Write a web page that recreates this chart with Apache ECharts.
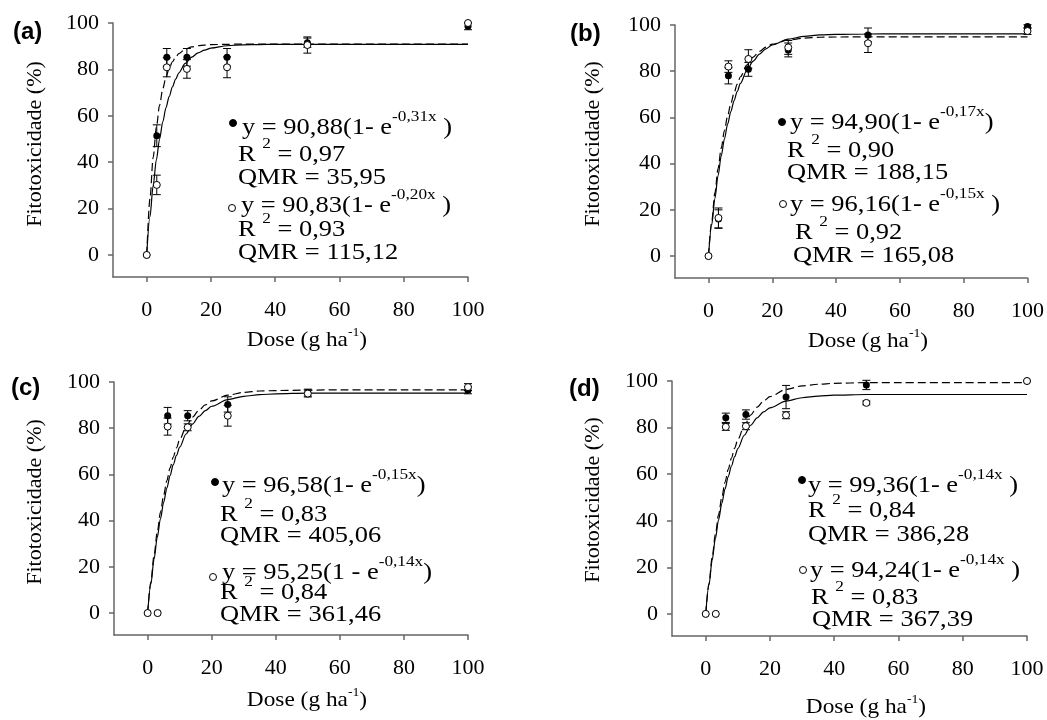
<!DOCTYPE html>
<html>
<head>
<meta charset="utf-8">
<title>Fitotoxicidade</title>
<script src="https://cdn.jsdelivr.net/npm/echarts@6/dist/echarts.min.js"></script>
<style>
  html, body { margin: 0; padding: 0; background: #fff; }
  #chart { width: 1047px; height: 720px; }
</style>
</head>
<body>
<div id="chart"></div>
<script>
// doses (g ha-1) and tick values
var doses = [0, 3.125, 6.25, 12.5, 25, 50, 100];
var curveDoses = [0, 1, 2, 3, 4, 5, 6, 7, 8, 9, 10, 12, 14, 16, 18, 20, 25, 30, 35, 40, 50, 60, 80, 100];
var xTicks = [0, 20, 40, 60, 80, 100];
var yTicks = [0, 20, 40, 60, 80, 100];

// (a)
var aFilled    = [0, 51.4, 85.2, 85.2, 85.2, 91.5, 98.6];
var aFilledErr = [0, 4.7, 3.8, 3.8, 3.8, 2.0, 1.5];
var aOpen      = [0, 30.2, 80.9, 80.2, 80.9, 90.5, 100];
var aOpenErr   = [0, 4.2, 4.1, 4.0, 4.5, 3.5, 0];
var aFilledFit = [0, 24.2, 42.0, 55.0, 64.6, 71.6, 76.7, 80.5, 83.3, 85.3, 86.8, 88.7, 89.7, 90.2, 90.5, 90.7, 90.8, 90.9, 90.9, 90.9, 90.9, 90.9, 90.9, 90.9];
var aOpenFit   = [0, 16.5, 29.9, 41.0, 50.0, 57.4, 63.5, 68.4, 72.5, 75.8, 78.5, 82.6, 85.3, 87.1, 88.3, 89.2, 90.2, 90.6, 90.7, 90.8, 90.8, 90.8, 90.8, 90.8];

// (b)
var bFilled    = [0, 16.0, 78.0, 80.8, 89.2, 95.7, 99.3];
var bFilledErr = [0, 4.0, 3.5, 3.0, 3.0, 3.0, 0.8];
var bOpen      = [0, 16.5, 82.0, 85.3, 90.3, 92.1, 97.4];
var bOpenErr   = [0, 4.3, 2.5, 4.0, 3.0, 4.0, 1.5];
var bFilledFit = [0, 14.8, 27.3, 37.9, 46.8, 54.3, 60.7, 66.0, 70.5, 74.4, 77.6, 82.6, 86.1, 88.6, 90.4, 91.7, 93.5, 94.3, 94.7, 94.8, 94.9, 94.9, 94.9, 94.9];
var bOpenFit   = [0, 13.4, 24.9, 34.8, 43.4, 50.7, 57.1, 62.5, 67.2, 71.2, 74.7, 80.3, 84.4, 87.4, 89.7, 91.4, 93.9, 95.1, 95.7, 95.9, 96.1, 96.2, 96.2, 96.2];

// (c)
var cFilled    = [0, 0, 85.4, 85.4, 90.3, 95.4, 96.4];
var cFilledErr = [0, 0, 3.6, 2.2, 3.3, 1.5, 1.5];
var cOpen      = [0, 0, 80.7, 80.4, 85.4, 95.0, 97.8];
var cOpenErr   = [0, 0, 3.7, 1.5, 4.5, 1.5, 1.5];
var cFilledFit = [0, 13.5, 25.0, 35.0, 43.6, 51.0, 57.3, 62.8, 67.5, 71.5, 75.0, 80.6, 84.8, 87.8, 90.1, 91.8, 94.3, 95.5, 96.1, 96.3, 96.5, 96.6, 96.6, 96.6];
var cOpenFit   = [0, 12.4, 23.3, 32.7, 40.8, 47.9, 54.1, 59.5, 64.2, 68.2, 71.8, 77.5, 81.8, 85.1, 87.6, 89.5, 92.4, 93.8, 94.5, 94.9, 95.2, 95.2, 95.2, 95.2];

// (d)
var dFilled    = [0, 0, 84.2, 85.6, 93.1, 98.3, 100];
var dFilledErr = [0, 0, 2.0, 2.0, 5.0, 2.0, 0];
var dOpen      = [0, 0, 80.3, 80.6, 85.3, 90.6, 100];
var dOpenErr   = [0, 0, 1.5, 1.5, 1.5, 0.8, 0];
var dFilledFit = [0, 13.0, 24.3, 34.1, 42.6, 50.0, 56.5, 62.1, 66.9, 71.2, 74.9, 80.8, 85.4, 88.8, 91.4, 93.3, 96.4, 97.9, 98.6, 99.0, 99.3, 99.3, 99.3, 99.3];
var dOpenFit   = [0, 12.3, 23.0, 32.3, 40.4, 47.4, 53.6, 58.9, 63.5, 67.5, 71.0, 76.7, 81.0, 84.2, 86.7, 88.5, 91.4, 92.8, 93.5, 93.9, 94.2, 94.2, 94.2, 94.2];

var panels = [
  { filled: aFilled, filledErr: aFilledErr, open: aOpen, openErr: aOpenErr, filledFit: aFilledFit, openFit: aOpenFit },
  { filled: bFilled, filledErr: bFilledErr, open: bOpen, openErr: bOpenErr, filledFit: bFilledFit, openFit: bOpenFit },
  { filled: cFilled, filledErr: cFilledErr, open: cOpen, openErr: cOpenErr, filledFit: cFilledFit, openFit: cOpenFit },
  { filled: dFilled, filledErr: dFilledErr, open: dOpen, openErr: dOpenErr, filledFit: dFilledFit, openFit: dOpenFit }
];

var serif = '"Liberation Serif", "Times New Roman", serif';
var axisColor = '#666';

var grids = [
  { left: 113, top: 23, width: 355, height: 254 },
  { left: 675, top: 25, width: 353, height: 253 },
  { left: 114, top: 382, width: 354, height: 253 },
  { left: 672, top: 381, width: 355, height: 255 }
];

var xAxes = grids.map(function (g, i) {
  return {
    type: 'value', gridIndex: i, min: -10.5, max: 100,
    axisLine: { show: true, onZero: false, lineStyle: { color: axisColor, width: 1.5 } },
    axisTick: { show: true, length: 5, customValues: xTicks, lineStyle: { color: axisColor, width: 1.5 } },
    axisLabel: { customValues: xTicks, fontFamily: serif, fontSize: 22, color: '#000', margin: 22 },
    splitLine: { show: false }
  };
});

var yAxes = grids.map(function (g, i) {
  return {
    type: 'value', gridIndex: i, min: -9.5, max: 100,
    axisLine: { show: true, onZero: false, lineStyle: { color: axisColor, width: 1.5 } },
    axisTick: { show: true, length: 5, customValues: yTicks, lineStyle: { color: axisColor, width: 1.5 } },
    axisLabel: { customValues: yTicks, fontFamily: serif, fontSize: 22, color: '#000', margin: 14 },
    splitLine: { show: false }
  };
});

function errorBars(params, api) {
  var x = api.value(0), lo = api.value(1), hi = api.value(2);
  var top = api.coord([x, hi]), bot = api.coord([x, lo]);
  var w = 4;
  var st = { stroke: '#000', lineWidth: 1 };
  return {
    type: 'group',
    children: [
      { type: 'line', shape: { x1: top[0], y1: top[1], x2: bot[0], y2: bot[1] }, style: st },
      { type: 'line', shape: { x1: top[0] - w, y1: top[1], x2: top[0] + w, y2: top[1] }, style: st },
      { type: 'line', shape: { x1: bot[0] - w, y1: bot[1], x2: bot[0] + w, y2: bot[1] }, style: st }
    ]
  };
}

var series = [];
panels.forEach(function (p, i) {
  var errData = [];
  doses.forEach(function (d, j) {
    if (p.filledErr[j] > 0) errData.push([d, p.filled[j] - p.filledErr[j], p.filled[j] + p.filledErr[j]]);
    if (p.openErr[j] > 0) errData.push([d, p.open[j] - p.openErr[j], p.open[j] + p.openErr[j]]);
  });
  series.push({
    type: 'line', xAxisIndex: i, yAxisIndex: i, showSymbol: false, smooth: 0.3, smoothMonotone: 'x',
    data: curveDoses.map(function (d, j) { return [d, p.filledFit[j]]; }),
    lineStyle: { color: '#000', width: 1.2, type: [8, 4] }, z: 2
  });
  series.push({
    type: 'line', xAxisIndex: i, yAxisIndex: i, showSymbol: false, smooth: 0.3, smoothMonotone: 'x',
    data: curveDoses.map(function (d, j) { return [d, p.openFit[j]]; }),
    lineStyle: { color: '#000', width: 1.2 }, z: 2
  });
  series.push({
    type: 'custom', xAxisIndex: i, yAxisIndex: i, renderItem: errorBars,
    encode: { x: 0, y: [1, 2] }, data: errData, z: 3
  });
  series.push({
    type: 'scatter', xAxisIndex: i, yAxisIndex: i, symbol: 'circle', symbolSize: 7,
    data: doses.map(function (d, j) { return [d, p.filled[j]]; }),
    itemStyle: { color: '#000', opacity: 1 }, z: 4
  });
  series.push({
    type: 'scatter', xAxisIndex: i, yAxisIndex: i, symbol: 'circle', symbolSize: 7,
    data: doses.map(function (d, j) { return [d, p.open[j]]; }),
    itemStyle: { color: '#fff', borderColor: '#000', borderWidth: 1, opacity: 1 }, z: 5
  });
});

var rich = {
  m: { fontFamily: serif, fontSize: 23, lineHeight: 36, fill: '#000' },
  s: { fontFamily: serif, fontSize: 15, lineHeight: 16, verticalAlign: 'top', fill: '#000' },
  t: { fontFamily: serif, fontSize: 22, lineHeight: 28, fill: '#000' },
  u: { fontFamily: serif, fontSize: 13, lineHeight: 14, verticalAlign: 'top', fill: '#000' }
};

function txt(x, baseline, text) {
  return { type: 'text', x: x, y: baseline - 7.5, scaleX: 1.15,
    style: { text: text, rich: rich, align: 'left', verticalAlign: 'middle' } };
}
function eq(x, baseline, main, sup, tail) {
  return txt(x, baseline, '{m|' + main + '}{s|' + sup + '}{m|' + tail + '}');
}
function r2(x, baseline, v) {
  return txt(x, baseline, '{m|R }{s|2}{m| = ' + v + '}');
}
function qmr(x, baseline, v) {
  return txt(x, baseline, '{m|QMR = ' + v + '}');
}
function dot(x, y, filled) {
  return { type: 'circle', shape: { cx: x, cy: y, r: 3.5 }, style: { fill: filled ? '#000' : '#fff', stroke: '#000', lineWidth: 1 } };
}

var letterFont = 'bold 24px "Liberation Sans", Arial, sans-serif';
var graphics = [
  { type: 'text', x: 13, y: 32, style: { text: '(a)', font: letterFont, fill: '#000', verticalAlign: 'middle' } },
  { type: 'text', x: 570, y: 34, style: { text: '(b)', font: letterFont, fill: '#000', verticalAlign: 'middle' } },
  { type: 'text', x: 11, y: 388, style: { text: '(c)', font: letterFont, fill: '#000', verticalAlign: 'middle' } },
  { type: 'text', x: 569, y: 389, style: { text: '(d)', font: letterFont, fill: '#000', verticalAlign: 'middle' } }
];

// axis titles
[[35, 144], [593, 144], [35, 502], [593, 500]].forEach(function (c) {
  graphics.push({ type: 'text', x: c[0], y: c[1], rotation: Math.PI / 2,
    style: { text: 'Fitotoxicidade (%)', font: '22px ' + serif, fill: '#000', align: 'center', verticalAlign: 'middle' } });
});
[[307, 340], [868, 341], [307, 700], [866, 707]].forEach(function (c) {
  graphics.push({ type: 'text', x: c[0], y: c[1], scaleX: 1.06,
    style: { text: '{t|Dose (g ha}{u|-1}{t|)}', rich: rich, align: 'center', verticalAlign: 'middle' } });
});

// equations
graphics.push(
  dot(233, 123, true), eq(242, 135, 'y = 90,88(1- e', '-0,31x', ' )'), r2(238, 162, '0,97'), qmr(238, 185, '35,95'),
  dot(232, 208, false), eq(241, 213, 'y = 90,83(1- e', '-0,20x', ' )'), r2(238, 237, '0,93'), qmr(238, 260, '115,12'),

  dot(782, 122, true), eq(790, 130, 'y = 94,90(1- e', '-0,17x', ')'), r2(787, 158, '0,90'), qmr(787, 180, '188,15'),
  dot(783, 204, false), eq(790, 212, 'y = 96,16(1- e', '-0,15x', ' )'), r2(795, 240, '0,92'), qmr(793, 263, '165,08'),

  dot(215, 482, true), eq(222, 493, 'y = 96,58(1- e', '-0,15x', ')'), r2(220, 522, '0,83'), qmr(220, 543, '405,06'),
  dot(213, 577, false), eq(222, 580, 'y = 95,25(1 - e', '-0,14x', ')'), r2(220, 600, '0,84'), qmr(220, 622, '361,46'),

  dot(802, 480, true), eq(808, 493, 'y = 99,36(1- e', '-0,14x', ' )'), r2(808, 518, '0,84'), qmr(808, 542, '386,28'),
  dot(803, 570, false), eq(810, 578, 'y = 94,24(1- e', '-0,14x', ' )'), r2(811, 605, '0,83'), qmr(812, 627, '367,39')
);

var chart = echarts.init(document.getElementById('chart'));
chart.setOption({
  animation: false,
  backgroundColor: '#fff',
  grid: grids,
  xAxis: xAxes,
  yAxis: yAxes,
  series: series,
  graphic: graphics
});
</script>
</body>
</html>
